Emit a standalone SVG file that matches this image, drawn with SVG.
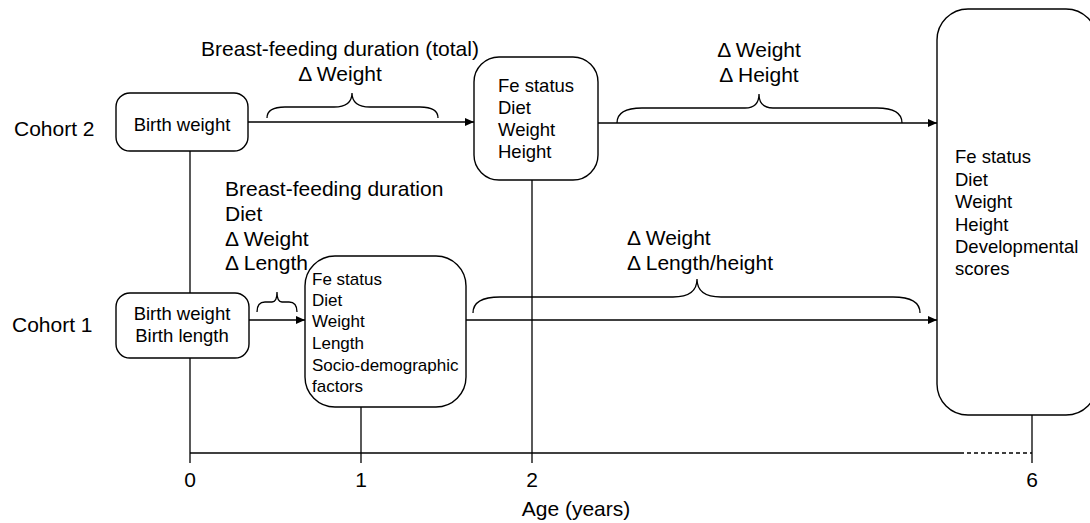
<svg xmlns="http://www.w3.org/2000/svg" width="1090" height="523" viewBox="0 0 1090 523">
<style>
  text { font-family: "Liberation Sans", Arial, Helvetica, sans-serif; fill: #000; }
  .lbl { font-size: 21px; }
  .box { fill: #fff; stroke: #000; stroke-width: 1.4; }
  .bt { font-size: 18.5px; }
  .bt1 { font-size: 17px; }
  .ln { stroke: #000; stroke-width: 1.3; fill: none; }
  .br { stroke: #000; stroke-width: 1.3; fill: none; }
</style>
<defs>
  <marker id="arr" markerUnits="userSpaceOnUse" markerWidth="9" markerHeight="8" refX="9" refY="4" orient="auto">
    <path d="M0,0 L9,4 L0,8 z" fill="#000"/>
  </marker>
</defs>
<rect width="1090" height="523" fill="#fff"/>

<g id="axis">
  <line class="ln" x1="190" y1="453" x2="960" y2="453"/>
  <line class="ln" x1="960" y1="453" x2="1032" y2="453" stroke-dasharray="4,3"/>
  <line class="ln" x1="361" y1="407" x2="361" y2="463"/>
  <line class="ln" x1="532" y1="180" x2="532" y2="463"/>
  <line class="ln" x1="1032" y1="415" x2="1032" y2="463"/>
  <text class="lbl" x="190" y="487" text-anchor="middle">0</text>
  <text class="lbl" x="361" y="487" text-anchor="middle">1</text>
  <text class="lbl" x="532" y="487" text-anchor="middle">2</text>
  <text class="lbl" x="1032" y="487" text-anchor="middle">6</text>
  <text class="lbl" x="576" y="516" text-anchor="middle">Age (years)</text>
</g>

<g id="connectors">
  <line class="ln" x1="190" y1="150" x2="190" y2="463"/>
  <line class="ln" x1="248" y1="122" x2="474" y2="122" marker-end="url(#arr)"/>
  <line class="ln" x1="598" y1="123" x2="937" y2="123" marker-end="url(#arr)"/>
  <line class="ln" x1="249" y1="320" x2="305" y2="320" marker-end="url(#arr)"/>
  <line class="ln" x1="466" y1="320" x2="937" y2="320" marker-end="url(#arr)"/>
  <!-- braces -->
  <path class="br" d="M267,118 Q267,107 285,107 L334,107 Q352,107 352,93 Q352,107 370,107 L420,107 Q438,107 438,118"/>
  <path class="br" d="M617,123 Q617,108 642,108 L745,108 Q759,108 759,94 Q759,108 773,108 L877,108 Q902,108 902,123"/>
  <path class="br" d="M257,312 Q257,302 265,302 L272,302 Q277,302 277,292 Q277,302 282,302 L289,302 Q297,302 297,312"/>
  <path class="br" d="M473,313 Q473,297 500,297 L673,297 Q697,297 697,279 Q697,297 721,297 L893,297 Q920,297 920,313"/>
</g>

<g id="labels">
  <text class="lbl" x="14" y="136">Cohort 2</text>
  <text class="lbl" x="12" y="332">Cohort 1</text>
  <text class="lbl" x="340" y="56" text-anchor="middle">Breast-feeding duration (total)</text>
  <text class="lbl" x="340" y="81" text-anchor="middle">Δ Weight</text>
  <text class="lbl" x="759" y="57" text-anchor="middle">Δ Weight</text>
  <text class="lbl" x="759" y="82" text-anchor="middle">Δ Height</text>
  <text class="lbl" x="225" y="196">Breast-feeding duration</text>
  <text class="lbl" x="225" y="221">Diet</text>
  <text class="lbl" x="225" y="246">Δ Weight</text>
  <text class="lbl" x="225" y="270">Δ Length</text>
  <text class="lbl" x="627" y="245">Δ Weight</text>
  <text class="lbl" x="627" y="270">Δ Length/height</text>
</g>

<g id="c2-birth">
  <rect class="box" x="116" y="93" width="132" height="58" rx="14"/>
  <text class="bt" x="182" y="131" text-anchor="middle">Birth weight</text>
</g>

<g id="c1-birth">
  <rect class="box" x="116" y="293" width="133" height="65" rx="14"/>
  <text class="bt" x="182" y="320" text-anchor="middle">Birth weight</text>
  <text class="bt" x="182" y="342" text-anchor="middle">Birth length</text>
</g>

<g id="c2-age2">
  <rect class="box" x="474" y="57" width="124" height="123" rx="25"/>
  <text class="bt" x="498" y="92">Fe status</text>
  <text class="bt" x="498" y="114">Diet</text>
  <text class="bt" x="498" y="136">Weight</text>
  <text class="bt" x="498" y="158">Height</text>
</g>

<g id="c1-age1">
  <rect class="box" x="305" y="256" width="161" height="151" rx="30"/>
  <text class="bt1" x="312" y="285">Fe status</text>
  <text class="bt1" x="312" y="306">Diet</text>
  <text class="bt1" x="312" y="327">Weight</text>
  <text class="bt1" x="312" y="349">Length</text>
  <text class="bt1" x="312" y="371">Socio-demographic</text>
  <text class="bt1" x="312" y="392">factors</text>
</g>

<g id="age6">
  <rect class="box" x="937" y="9" width="160" height="406" rx="31"/>
  <text class="bt" x="955" y="163">Fe status</text>
  <text class="bt" x="955" y="186">Diet</text>
  <text class="bt" x="955" y="208">Weight</text>
  <text class="bt" x="955" y="231">Height</text>
  <text class="bt" x="955" y="253">Developmental</text>
  <text class="bt" x="955" y="275">scores</text>
</g>
</svg>
